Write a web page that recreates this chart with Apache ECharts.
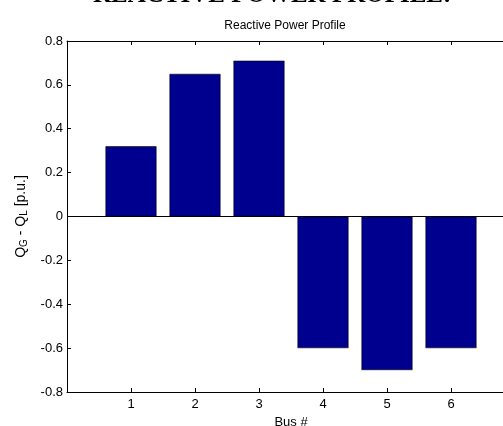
<!DOCTYPE html>
<html>
<head>
<meta charset="utf-8">
<script src="https://cdn.jsdelivr.net/npm/echarts@6/dist/echarts.min.js"></script>
<style>
  html, body { margin: 0; padding: 0; background: #fff; }
  #chart { width: 503px; height: 426px; }
</style>
</head>
<body>
<div id="chart"></div>
<script>
// bus numbers and net reactive power (p.u.)
let buses = [1, 2, 3, 4, 5, 6]
let qNet = [0.32, 0.65, 0.71, -0.60, -0.70, -0.60]

let font = 'Liberation Sans'

let chart = echarts.init(document.getElementById('chart'), null, { renderer: 'canvas' })

let option = {
  animation: false,
  backgroundColor: '#fff',
  title: {
    text: 'Reactive Power Profile',
    left: 280,
    textAlign: 'center',
    top: 15,
    textStyle: { fontFamily: font, fontSize: 12, fontWeight: 'normal', color: '#000' }
  },
  graphic: [
    {
      // page heading cut off by the top edge
      type: 'text',
      x: 93,
      y: -17,
      style: {
        text: 'REACTIVE POWER PROFILE:',
        font: 'bold 25px "Liberation Serif"',
        fill: '#000',
        verticalAlign: 'top'
      }
    }
  ],
  grid: { left: 67, width: 448, top: 41, bottom: 34, outerBoundsMode: 'none' },
  xAxis: [
    {
      type: 'value',
      min: 0, max: 7, interval: 1,
      position: 'bottom',
      name: 'Bus #',
      nameLocation: 'middle',
      nameGap: 22,
      nameTextStyle: { fontFamily: font, fontSize: 13, color: '#000' },
      axisLine: { onZero: false, lineStyle: { color: '#000', width: 1 } },
      axisTick: { inside: true, length: 4, lineStyle: { color: '#000' } },
      axisLabel: {
        fontFamily: font, fontSize: 13, color: '#000', margin: 6,
        formatter: v => buses.includes(v) ? String(v) : ''
      },
      splitLine: { show: false }
    },
    {
      type: 'value',
      min: 0, max: 7, interval: 1,
      position: 'top',
      axisLine: { onZero: false, lineStyle: { color: '#000', width: 1 } },
      axisTick: { inside: true, length: 4, lineStyle: { color: '#000' } },
      axisLabel: { show: false },
      splitLine: { show: false }
    }
  ],
  yAxis: {
    type: 'value',
    min: -0.8, max: 0.8, interval: 0.2,
    name: 'Q{s|G} - Q{s|L} [p.u.]',
    nameLocation: 'middle',
    nameGap: 35,
    nameTextStyle: {
      fontFamily: font, fontSize: 14, color: '#000',
      rich: {
        s: { fontFamily: font, fontSize: 10, color: '#000', verticalAlign: 'bottom', padding: [8, 0, 0, 0] }
      }
    },
    axisLine: { show: true, lineStyle: { color: '#000', width: 1 } },
    axisTick: { inside: true, length: 4, lineStyle: { color: '#000' } },
    axisLabel: {
      fontFamily: font, fontSize: 13, color: '#000', margin: 4,
      formatter: v => {
        let r = Math.round(v * 10) / 10
        return r === 0 ? '0' : String(r)
      }
    },
    splitLine: { show: false }
  },
  series: [
    {
      type: 'bar',
      xAxisIndex: 0,
      data: buses.map((b, i) => [b, qNet[i]]),
      barWidth: 51,
      itemStyle: { color: '#00008f', borderColor: '#000', borderWidth: 0.6 },
      markLine: {
        silent: true,
        symbol: 'none',
        label: { show: false },
        lineStyle: { color: '#000', width: 1, type: 'solid' },
        data: [{ yAxis: 0 }]
      }
    }
  ]
}

chart.setOption(option)
</script>
</body>
</html>
